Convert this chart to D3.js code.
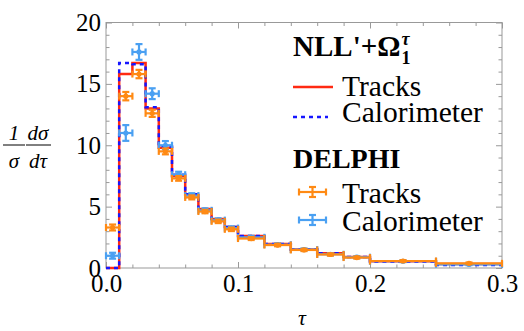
<!DOCTYPE html>
<html>
<head>
<meta charset="utf-8">
<script src="https://cdn.jsdelivr.net/npm/d3@7"></script>
<style>
  body { margin: 0; background: #fff; }
  svg { display: block; }
  svg text { font-family: "Liberation Serif", "Times New Roman", Times, serif; }
</style>
</head>
<body>
<svg id="chart" width="524" height="331"></svg>
<script>
// bin edges in tau
var binEdges = [0, 0.01, 0.02, 0.03, 0.04, 0.05, 0.06, 0.07, 0.08, 0.09, 0.10,
                0.12, 0.14, 0.16, 0.18, 0.20, 0.25, 0.30];

// NLL'+Omega theory curves (one value per bin)
var nllTracks = [0, 15.8, 16.7, 13.0, 9.8, 7.5, 5.95, 4.8, 4.0, 3.35, 2.6, 1.95, 1.5, 1.2, 0.9, 0.55, 0.33];
var nllCalo   = [0, 16.7, 16.6, 13.1, 9.9, 7.6, 6.0, 4.8, 4.0, 3.35, 2.6, 1.95, 1.5, 1.2, 0.9, 0.52, 0.25];

// DELPHI data
var delphiTracks    = [3.3, 14.0, 15.8, 12.6, 9.5, 7.3, 5.75, 4.6, 3.8, 3.15, 2.4, 1.87, 1.47, 1.1, 0.85, 0.57, 0.38];
var delphiTracksErr = [0.2, 0.3, 0.3, 0.25, 0.2, 0.15, 0.12, 0.1, 0.1, 0.1, 0.08, 0.06, 0.05, 0.05, 0.04, 0.03, 0.03];
var delphiCalo      = [1.0, 11.0, 17.6, 14.2, 10.0, 7.6, 5.9, 4.7, 3.9, 3.25, 2.5, 1.9, 1.5, 1.12, 0.88, 0.55, 0.3];
var delphiCaloErr   = [0.2, 0.6, 0.6, 0.4, 0.3, 0.2, 0.15, 0.12, 0.1, 0.1, 0.08, 0.06, 0.05, 0.05, 0.04, 0.03, 0.03];

var xMajor = [0, 0.1, 0.2, 0.3];
var yMajor = [0, 5, 10, 15, 20];

var colRed = '#ff2a12', colDkBlue = '#1616ff', colOrange = '#ff8a14', colLtBlue = '#4aa0f2';
var axisCol = '#999';
var serif = '"Liberation Serif", "Times New Roman", Times, serif';

var svg = d3.select('#chart');
var plotL = 106, plotR = 502, plotT = 22.5, plotB = 268;

var x = d3.scaleLinear().domain([0, 0.3]).range([plotL, plotR]);
var y = d3.scaleLinear().domain([0, 20]).range([plotB, plotT]);

var xMinor = d3.range(0, 0.3001, 0.02).filter(function (v) { return Math.abs(v * 10 - Math.round(v * 10)) > 1e-6; });
var yMinor = d3.range(0, 20.001, 1).filter(function (v) { return v % 5 !== 0; });

function styleAxis(g) {
    g.attr('font-family', serif);
    g.select('.domain').remove();
    g.selectAll('.tick line').attr('stroke', axisCol).attr('stroke-width', 1);
    g.selectAll('.tick text')
        .attr('fill', '#000')
        .style('font-size', '25px');
}

// major + minor ticks on all four sides, pointing in
svg.append('g').attr('transform', 'translate(0,' + plotB + ')')
    .call(d3.axisBottom(x).tickValues(xMajor).tickFormat(d3.format('.1f')).tickSizeInner(-6).tickSizeOuter(0).tickPadding(6))
    .call(styleAxis);
svg.append('g').attr('transform', 'translate(0,' + plotB + ')')
    .call(d3.axisBottom(x).tickValues(xMinor).tickFormat('').tickSizeInner(-3.5).tickSizeOuter(0))
    .call(styleAxis);
svg.append('g').attr('transform', 'translate(0,' + plotT + ')')
    .call(d3.axisTop(x).tickValues(xMajor).tickFormat('').tickSizeInner(-6).tickSizeOuter(0))
    .call(styleAxis);
svg.append('g').attr('transform', 'translate(0,' + plotT + ')')
    .call(d3.axisTop(x).tickValues(xMinor).tickFormat('').tickSizeInner(-3.5).tickSizeOuter(0))
    .call(styleAxis);

svg.append('g').attr('transform', 'translate(' + plotL + ',0)')
    .call(d3.axisLeft(y).tickValues(yMajor).tickSizeInner(-6).tickSizeOuter(0).tickPadding(5))
    .call(styleAxis);
svg.append('g').attr('transform', 'translate(' + plotL + ',0)')
    .call(d3.axisLeft(y).tickValues(yMinor).tickFormat('').tickSizeInner(-3.5).tickSizeOuter(0))
    .call(styleAxis);
svg.append('g').attr('transform', 'translate(' + plotR + ',0)')
    .call(d3.axisRight(y).tickValues(yMajor).tickFormat('').tickSizeInner(-6).tickSizeOuter(0))
    .call(styleAxis);
svg.append('g').attr('transform', 'translate(' + plotR + ',0)')
    .call(d3.axisRight(y).tickValues(yMinor).tickFormat('').tickSizeInner(-3.5).tickSizeOuter(0))
    .call(styleAxis);

svg.append('rect')
    .attr('x', plotL).attr('y', plotT)
    .attr('width', plotR - plotL).attr('height', plotB - plotT)
    .attr('fill', 'none').attr('stroke', axisCol).attr('stroke-width', 1);

// theory step histograms
function stepPoints(vals) {
    var pts = vals.map(function (v, i) { return [binEdges[i], v]; });
    pts.push([binEdges[binEdges.length - 1], vals[vals.length - 1]]);
    return pts;
}
var stepLine = d3.line()
    .x(function (d) { return x(d[0]); })
    .y(function (d) { return y(d[1]); })
    .curve(d3.curveStepAfter);

svg.append('path')
    .attr('d', stepLine(stepPoints(nllTracks)))
    .attr('fill', 'none').attr('stroke', colRed).attr('stroke-width', 2.5);
svg.append('path')
    .attr('d', stepLine(stepPoints(nllCalo)))
    .attr('fill', 'none').attr('stroke', colDkBlue).attr('stroke-width', 2.5)
    .attr('stroke-dasharray', '4,4');

// data with error bars
function drawData(vals, errs, col) {
    var g = svg.append('g').attr('stroke', col).attr('stroke-width', 2.2).attr('fill', col);
    vals.forEach(function (v, i) {
        var x0 = x(binEdges[i]), x1 = x(binEdges[i + 1]);
        var xc = x((binEdges[i] + binEdges[i + 1]) / 2);
        var yc = y(v), ylo = y(v - errs[i]), yhi = y(v + errs[i]);
        var cap = 3.5;
        g.append('line').attr('x1', x0).attr('x2', x1).attr('y1', yc).attr('y2', yc);
        g.append('line').attr('x1', x0).attr('x2', x0).attr('y1', yc - cap).attr('y2', yc + cap);
        g.append('line').attr('x1', x1).attr('x2', x1).attr('y1', yc - cap).attr('y2', yc + cap);
        g.append('line').attr('x1', xc).attr('x2', xc).attr('y1', yhi - 0.5).attr('y2', ylo + 0.5);
        g.append('line').attr('x1', xc - cap).attr('x2', xc + cap).attr('y1', yhi - 0.5).attr('y2', yhi - 0.5);
        g.append('line').attr('x1', xc - cap).attr('x2', xc + cap).attr('y1', ylo + 0.5).attr('y2', ylo + 0.5);
        g.append('circle').attr('cx', xc).attr('cy', yc).attr('r', 2.6).attr('stroke', 'none');
    });
}
drawData(delphiCalo, delphiCaloErr, colLtBlue);
drawData(delphiTracks, delphiTracksErr, colOrange);

// legend
var legX = 293, legTextX = 342;
var title = svg.append('text').attr('x', legX).attr('y', 56)
    .style('font-size', '29px').style('font-weight', 'bold').text("NLL'+\u03A9");
var tw = title.node().getComputedTextLength();
svg.append('text').attr('x', legX + tw + 1).attr('y', 45)
    .style('font-size', '18px').style('font-weight', 'bold').style('font-style', 'italic').text('\u03C4');
svg.append('text').attr('x', legX + tw + 1).attr('y', 64)
    .style('font-size', '18px').style('font-weight', 'bold').text('1');

svg.append('line').attr('x1', legX).attr('x2', 333).attr('y1', 87).attr('y2', 87)
    .attr('stroke', colRed).attr('stroke-width', 2.5);
svg.append('text').attr('x', legTextX).attr('y', 96).style('font-size', '29.5px').text('Tracks');
svg.append('line').attr('x1', legX).attr('x2', 328).attr('y1', 117).attr('y2', 117)
    .attr('stroke', colDkBlue).attr('stroke-width', 2.5).attr('stroke-dasharray', '4,4');
svg.append('text').attr('x', legTextX).attr('y', 122).style('font-size', '29.5px').text('Calorimeter');

svg.append('text').attr('x', legX).attr('y', 168)
    .style('font-size', '28px').style('font-weight', 'bold').text('DELPHI');

function legendErr(yc, col) {
    var g = svg.append('g').attr('stroke', col).attr('stroke-width', 2.2);
    var xa = 299, xb = 326, xc = (xa + xb) / 2, c = 3.5;
    g.append('line').attr('x1', xa).attr('x2', xb).attr('y1', yc).attr('y2', yc);
    g.append('line').attr('x1', xa).attr('x2', xa).attr('y1', yc - c).attr('y2', yc + c);
    g.append('line').attr('x1', xb).attr('x2', xb).attr('y1', yc - c).attr('y2', yc + c);
    g.append('line').attr('x1', xc).attr('x2', xc).attr('y1', yc - 5).attr('y2', yc + 5);
    g.append('line').attr('x1', xc - c).attr('x2', xc + c).attr('y1', yc - 5).attr('y2', yc - 5);
    g.append('line').attr('x1', xc - c).attr('x2', xc + c).attr('y1', yc + 5).attr('y2', yc + 5);
}
legendErr(192, colOrange);
svg.append('text').attr('x', legTextX).attr('y', 203).style('font-size', '29.5px').text('Tracks');
legendErr(220, colLtBlue);
svg.append('text').attr('x', legTextX).attr('y', 231).style('font-size', '29.5px').text('Calorimeter');

// axis titles
var yl = svg.append('g').style('font-style', 'italic').style('font-size', '21px');
yl.append('text').attr('x', 14).attr('y', 140).attr('text-anchor', 'middle').text('1');
yl.append('line').attr('x1', 3).attr('x2', 25).attr('y1', 145).attr('y2', 145).attr('stroke', '#000').attr('stroke-width', 1);
yl.append('text').attr('x', 14).attr('y', 168).attr('text-anchor', 'middle').text('\u03C3');
yl.append('text').attr('x', 38).attr('y', 140).attr('text-anchor', 'middle').text('d\u03C3');
yl.append('line').attr('x1', 26).attr('x2', 51).attr('y1', 145).attr('y2', 145).attr('stroke', '#000').attr('stroke-width', 1);
yl.append('text').attr('x', 38).attr('y', 168).attr('text-anchor', 'middle').text('d\u03C4');

svg.append('text').attr('x', 302).attr('y', 325).attr('text-anchor', 'middle')
    .style('font-style', 'italic').style('font-size', '22px').text('\u03C4');
</script>
</body>
</html>
